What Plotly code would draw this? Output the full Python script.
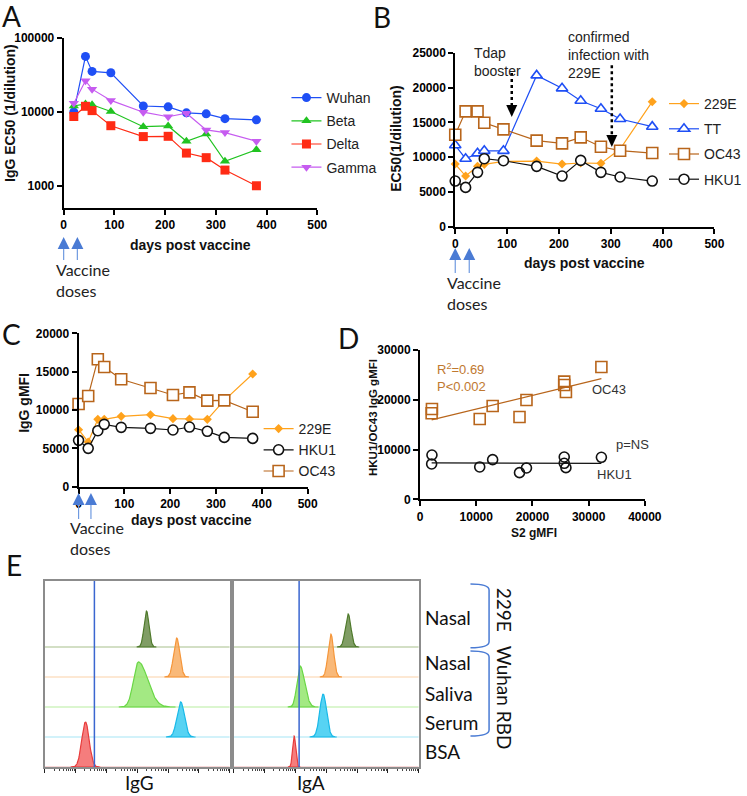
import numpy as np
import plotly.graph_objects as go

W, H = 747, 796
ARIAL = "Liberation Sans, Arial, sans-serif"
CAL = "Lato, Carlito, sans-serif"

# ---------------- data ----------------
# Panel A (log scale IgG EC50)
days_A = [20, 43, 56, 93, 157, 206, 242, 281, 318, 380]
a_wuhan = [10000, 56400, 35300, 33800, 12000, 11700, 9700, 9400, 8100, 7800]
a_beta = [12000, 12800, 12500, 10100, 6300, 6450, 4000, 5000, 2140, 3080]
a_delta = [8650, 11900, 10400, 6500, 4630, 4670, 2770, 2400, 1630, 1000]
a_gamma = [13100, 26400, 20300, 14300, 9900, 8600, 9600, 5700, 5250, 4000]

# Panel B (EC50)
days_B = [0, 20, 43, 56, 93, 157, 206, 242, 281, 318, 380]
b_229e = [9000, 7280, 8670, 8960, 9390, 9430, 9000, 9150, 9100, 11160, 17960]
b_tt = [11700, 9770, 10540, 10900, 10900, 21740, 19880, 18100, 16950, 15470, 14370]
b_oc43 = [13220, 16570, 16570, 14940, 13980, 12360, 11970, 12840, 11490, 10920, 10580]
b_hku1 = [6560, 5650, 7810, 9770, 9480, 8670, 7280, 9530, 7810, 7140, 6560]

# Panel C (IgG gMFI)
days_C = [0, 21, 42, 56, 93, 157, 206, 242, 281, 318, 380]
c_229e = [7430, 5830, 8780, 8780, 9170, 9390, 8870, 8830, 8780, 11260, 14700]
c_hku1 = [6040, 5000, 7300, 8130, 7740, 7610, 7390, 7780, 7220, 6430, 6300]
c_oc43 = [10780, 11830, 16610, 15610, 14000, 12870, 11960, 12300, 11220, 11260, 9780]

# Panel D (S2 gMFI vs HKU1/OC43 gMFI)
d_s2 = [2065, 2120, 10620, 12920, 17700, 18940, 25660, 25660, 25960, 32270]
d_oc43 = [17280, 18150, 16140, 18750, 16540, 19960, 23640, 22970, 21560, 26580]
d_hku1 = [7100, 8900, 6500, 7970, 5360, 6290, 8500, 7230, 6360, 8440]

# Panel B event markers (day)
tdap_day = 109
infection_day = 302
vaccine_days = [0, 27]

# Panel E (flow histograms), rows from top to bottom
e_labels = ["Nasal", "Nasal", "Saliva", "Serum", "BSA"]
e_row = [4, 3, 2, 1, 0]
igg_peak = [3.30, 4.28, 3.04, 4.41, 1.32]       # log10 fluorescence
igg_h = [1.20, 1.30, 1.50, 1.17, 1.50]
igg_sl = [0.08, 0.10, 0.16, 0.12, 0.12]
igg_sr = [0.08, 0.10, 0.30, 0.12, 0.12]
iga_peak = [3.71, 3.15, 2.15, 2.90, 1.96]
iga_h = [1.10, 1.43, 1.37, 1.43, 1.03]
iga_sl = [0.09, 0.09, 0.10, 0.11, 0.05]
iga_sr = [0.09, 0.09, 0.15, 0.11, 0.05]
igg_gate = 1.61
iga_gate = 2.12

# ---------------- helpers ----------------
def px(x):
    return x / W

def py(y):
    return 1 - y / H

fig = go.Figure()

def series(x, y, name, color, symbol, size, xa, ya, legend=None, fill=None, mlw=1.6):
    fig.add_trace(go.Scatter(
        x=x, y=y, name=name, mode="lines+markers",
        line=dict(color=color, width=1.2),
        marker=dict(symbol=symbol, size=size, color=fill if fill else color,
                    line=dict(color=color, width=mlw if fill else 0)),
        xaxis=xa, yaxis=ya, legend=legend,
        legendgroup=(legend or "") + name, showlegend=legend is not None,
        cliponaxis=False))

BLUE = "#1f4ff5"
ORANGE = "#ffa21c"
BROWN = "#b8651b"

# A
series(days_A, a_wuhan, "Wuhan", BLUE, "circle", 9, "x", "y", "legend")
series(days_A, a_beta, "Beta", "#21c321", "triangle-up", 9, "x", "y", "legend")
series(days_A, a_delta, "Delta", "#ff2b14", "square", 9, "x", "y", "legend")
series(days_A, a_gamma, "Gamma", "#c65cf0", "triangle-down", 9, "x", "y", "legend")

# B
series(days_B, b_229e, "229E", ORANGE, "diamond", 7, "x2", "y2", "legend2")
series(days_B, b_tt, "TT", BLUE, "triangle-up", 10, "x2", "y2", "legend2", fill="white")
series(days_B, b_oc43, "OC43", BROWN, "square", 11, "x2", "y2", "legend2", fill="white")
series(days_B, b_hku1, "HKU1", "#111111", "circle", 10, "x2", "y2", "legend2", fill="white")

# C
series(days_C, c_229e, "229E", ORANGE, "diamond", 7, "x3", "y3", "legend3")
series(days_C, c_hku1, "HKU1", "#111111", "circle", 10, "x3", "y3", "legend3", fill="white")
series(days_C, c_oc43, "OC43", BROWN, "square", 11, "x3", "y3", "legend3", fill="white")

# D : regression lines + points
for yv, col, sym, sz in [(d_oc43, BROWN, "square", 11), (d_hku1, "#111111", "circle", 10)]:
    k, b = np.polyfit(d_s2, yv, 1)
    xs = np.array([min(d_s2), max(d_s2)])
    fig.add_trace(go.Scatter(x=xs, y=k * xs + b, mode="lines", line=dict(color=col, width=1.3),
                             xaxis="x4", yaxis="y4", showlegend=False))
    fig.add_trace(go.Scatter(x=d_s2, y=yv, mode="markers",
                             marker=dict(symbol=sym, size=sz, color="rgba(255,255,255,0)",
                                         line=dict(color=col, width=1.6)),
                             xaxis="x4", yaxis="y4", showlegend=False, cliponaxis=False))

# E histograms
e_fill = ["rgba(96,132,62,0.8)", "rgba(248,168,88,0.8)", "rgba(140,228,100,0.8)",
          "rgba(45,200,240,0.8)", "rgba(242,92,92,0.8)"]
e_line = ["#4f7a2c", "#f5963a", "#6ad646", "#19b9e8", "#e83c3c"]
e_base = ["#a8c08c", "#fcd2a8", "#b8eea0", "#a6e6f6", "#f2b0b0"]

def hist_panel(peaks, hs, sls, srs, gate, xa, ya):
    for i in range(len(e_row)):
        off = e_row[i]
        fig.add_trace(go.Scatter(x=[1, 1e6], y=[off, off], mode="lines",
                                 line=dict(color=e_base[i], width=1.2),
                                 xaxis=xa, yaxis=ya, showlegend=False))
    for i in range(len(e_row)):
        off = e_row[i]
        t = np.linspace(-4, 4, 121)
        sig = np.where(t < 0, sls[i], srs[i])
        lx = peaks[i] + t * sig
        yy = off + hs[i] * np.exp(-t ** 2 / 2)
        xs = np.concatenate([10 ** lx, [10 ** lx[-1], 10 ** lx[0]]])
        ys = np.concatenate([yy, [off, off]])
        fig.add_trace(go.Scatter(x=xs, y=ys, mode="lines", fill="toself",
                                 fillcolor=e_fill[i], line=dict(color=e_line[i], width=1.2),
                                 xaxis=xa, yaxis=ya, showlegend=False))
    fig.add_trace(go.Scatter(x=[10 ** gate, 10 ** gate], y=[0, 6.2], mode="lines",
                             line=dict(color="#3a66d0", width=1.5),
                             xaxis=xa, yaxis=ya, showlegend=False))

hist_panel(igg_peak, igg_h, igg_sl, igg_sr, igg_gate, "x5", "y5")
hist_panel(iga_peak, iga_h, iga_sl, iga_sr, iga_gate, "x6", "y6")

# ---------------- axes ----------------
def axis(domain, rng, tickvals, anchor, **kw):
    d = dict(domain=domain, range=rng, tickvals=tickvals, tickmode="array", anchor=anchor,
             showline=True, linecolor="black", linewidth=2, ticks="outside", ticklen=5,
             tickwidth=2, tickcolor="black", showgrid=False, zeroline=False,
             tickformat="d", automargin=False,
             tickfont=dict(family=ARIAL, size=12, color="black", weight="bold"),
             fixedrange=True)
    d.update(kw)
    return d

def ex(domain, anchor):
    return dict(domain=domain, type="log", range=[0, 6], anchor=anchor, showline=True,
                mirror=True, linecolor="#8c8c8c", linewidth=1.5, ticks="outside", ticklen=4,
                tickwidth=1, tickcolor="#222", tickvals=[10 ** k for k in range(7)],
                tickmode="array", automargin=False,
                showticklabels=False, showgrid=False, zeroline=False,
                minor=dict(ticks="outside", ticklen=2, tickwidth=1, tickcolor="#444",
                           tickmode="array",
                           tickvals=[m * 10 ** k for k in range(6) for m in range(2, 10)],
                           showgrid=False),
                fixedrange=True)

def ey(domain, anchor):
    return dict(domain=domain, range=[0, 6.2], anchor=anchor, showline=True, mirror=True,
                linecolor="#8c8c8c", linewidth=1.5, showticklabels=False, ticks="",
                automargin=False, showgrid=False, zeroline=False, fixedrange=True)

days_ticks = [0, 100, 200, 300, 400, 500]
dom_A = [px(64), px(319)]
dom_B = [px(457.7), px(718.3)]
dom_C = [px(79), px(309.3)]
fig.update_layout(
    template="none",
    xaxis=axis(dom_A, [0, 500], days_ticks, "y"),
    yaxis=axis([py(208), py(38)], [np.log10(500), 5], [1000, 10000, 100000], "x",
               type="log", ticktext=["1000", "10000", "100000"]),
    xaxis2=axis(dom_B, [0, 500], days_ticks, "y2"),
    yaxis2=axis([py(226.7), py(52.7)], [0, 25000], [0, 5000, 10000, 15000, 20000, 25000], "x2"),
    xaxis3=axis(dom_C, [0, 500], days_ticks, "y3"),
    yaxis3=axis([py(486.7), py(333.3)], [0, 20000], [0, 5000, 10000, 15000, 20000], "x3"),
    xaxis4=axis([px(422.3), px(648.3)], [0, 40000], [0, 10000, 20000, 30000, 40000], "y4"),
    yaxis4=axis([py(499.3), py(350)], [0, 30000], [0, 10000, 20000, 30000], "x4"),
    xaxis5=ex([px(45), px(231)], "y5"),
    yaxis5=ey([py(767), py(581)], "x5"),
    xaxis6=ex([px(235), px(421)], "y6"),
    yaxis6=ey([py(767), py(581)], "x6"),
)

leg_common = dict(font=dict(family=ARIAL, size=14, color="#222"), bgcolor="rgba(0,0,0,0)",
                  borderwidth=0, xanchor="left", yanchor="top", traceorder="grouped",
                  itemwidth=30)
fig.update_layout(
    legend=dict(x=px(288), y=py(82), tracegroupgap=2, **leg_common),
    legend2=dict(x=px(668), y=py(88), tracegroupgap=4, **leg_common),
    legend3=dict(x=px(260), y=py(413), tracegroupgap=0, **leg_common),
)

# ---------------- shapes ----------------
shapes = []

def day_to_paper(dom, day):
    return dom[0] + (dom[1] - dom[0]) * day / 500.0

def up_arrow(dom, day, tip_y, stem):
    xa = day_to_paper(dom, day)
    shapes.append(dict(type="path", xref="paper", yref="paper", xsizemode="pixel",
                       ysizemode="pixel", xanchor=xa, yanchor=py(tip_y),
                       path="M0,0 L-6,-12 L6,-12 Z", fillcolor="#4a7bd4",
                       line=dict(width=0)))
    shapes.append(dict(type="line", xref="paper", yref="paper", xsizemode="pixel",
                       ysizemode="pixel", xanchor=xa, yanchor=py(tip_y),
                       x0=0, x1=0, y0=-12, y1=-12 - stem,
                       line=dict(color="#6f9ae0", width=1.2)))

for d in vaccine_days:
    up_arrow(dom_A, d, 237, 11)
    up_arrow(dom_B, d, 248, 13)
    up_arrow(dom_C, d, 493, 14)

def dotted_down(day, y_top, y_base, y_tip):
    shapes.append(dict(type="line", xref="x2", yref="y2", x0=day, x1=day, y0=y_top, y1=y_base,
                       line=dict(color="black", width=2.5, dash="dot")))
    shapes.append(dict(type="path", xref="x2", yref="y2", xsizemode="pixel",
                       ysizemode="pixel", xanchor=day, yanchor=y_tip,
                       path="M0,0 L-5.5,12 L5.5,12 Z", fillcolor="black",
                       line=dict(width=0)))

dotted_down(tdap_day, 22100, 17500, 15760)
dotted_down(infection_day, 23200, 13200, 11450)

# brackets in E
def bracket(y0, y1):
    xa, xb = px(473), px(491.7)
    path = (f"M{xa},{py(y0)} Q{xb},{py(y0)} {xb},{py(y0 + 6)} "
            f"L{xb},{py(y1 - 6)} Q{xb},{py(y1)} {xa},{py(y1)}")
    shapes.append(dict(type="path", xref="paper", yref="paper", path=path,
                       line=dict(color="#4a7bd4", width=1.5)))

bracket(584, 647.7)
bracket(651, 736)

fig.update_layout(shapes=shapes)

# ---------------- annotations ----------------
ann = []

def text(x, y, s, size=14, family=ARIAL, color="#222", bold=False, xanchor="center",
         angle=0, align="center"):
    ann.append(dict(x=px(x), y=py(y), xref="paper", yref="paper", text=s, showarrow=False,
                    xanchor=xanchor, yanchor="middle", textangle=angle, align=align,
                    font=dict(family=family, size=size, color=color,
                              weight="bold" if bold else "normal")))

# panel letters
for lt, x, y in [("A", 12, 16), ("B", 384, 17), ("C", 12, 334), ("D", 350, 338), ("E", 14, 565)]:
    text(x, y, lt, size=28, family=CAL, color="#111")

# axis titles
text(10, 113, "IgG EC50 (1/dilution)", bold=True, angle=-90, color="#111")
text(192, 245, "days post vaccine", bold=True, color="#111")
text(398, 138, "EC50(1/dilution)", bold=True, angle=-90, color="#111")
text(588, 263, "days post vaccine", bold=True, color="#111")
text(24, 403, "IgG gMFI", bold=True, angle=-90, color="#111")
text(193, 520, "days post vaccine", bold=True, color="#111")
text(375, 417, "HKU1/OC43 IgG gMFI", size=11.5, bold=True, angle=-90, color="#111")
text(537, 533, "S2 gMFI", size=12, bold=True, color="#111")

# vaccine dose labels
text(54, 279.5, "Vaccine<br>doses", size=16, family=CAL, xanchor="left", align="left")
text(447, 292.5, "Vaccine<br>doses", size=16, family=CAL, xanchor="left", align="left")
text(68, 537.5, "Vaccine<br>doses", size=16, family=CAL, xanchor="left", align="left")

# B event notes
text(475, 62, "Tdap<br>booster", size=14, xanchor="left", align="left")
text(569, 55, "confirmed<br>infection with<br>229E", size=14, xanchor="left", align="left")

# D notes
text(437, 377, "R<sup>2</sup>=0.69<br>P&lt;0.002", size=13, color="#c0782f", xanchor="left",
     align="left")
text(593, 390, "OC43", size=13, xanchor="left", color="#333")
text(617, 444, "p=NS", size=13, xanchor="left", color="#333")
text(598, 474, "HKU1", size=13, xanchor="left", color="#333")

# E labels
for lab, y in zip(e_labels, [617, 662, 693, 722, 751]):
    text(425, y, lab, size=19, family=CAL, xanchor="left", color="#111")
text(508, 610, "229E", size=19, family=CAL, angle=90, color="#111")
text(508, 698, "Wuhan RBD", size=19, family=CAL, angle=90, color="#111")
text(140, 782, "IgG", size=19, family=CAL, color="#111")
text(313, 782, "IgA", size=19, family=CAL, color="#111")

fig.update_layout(annotations=ann, width=W, height=H, margin=dict(l=0, r=0, t=0, b=0),
                  paper_bgcolor="white", plot_bgcolor="white", showlegend=True)

fig.write_html("out.html", config={"displayModeBar": False},
               post_script="document.body.style.margin='0px';")
